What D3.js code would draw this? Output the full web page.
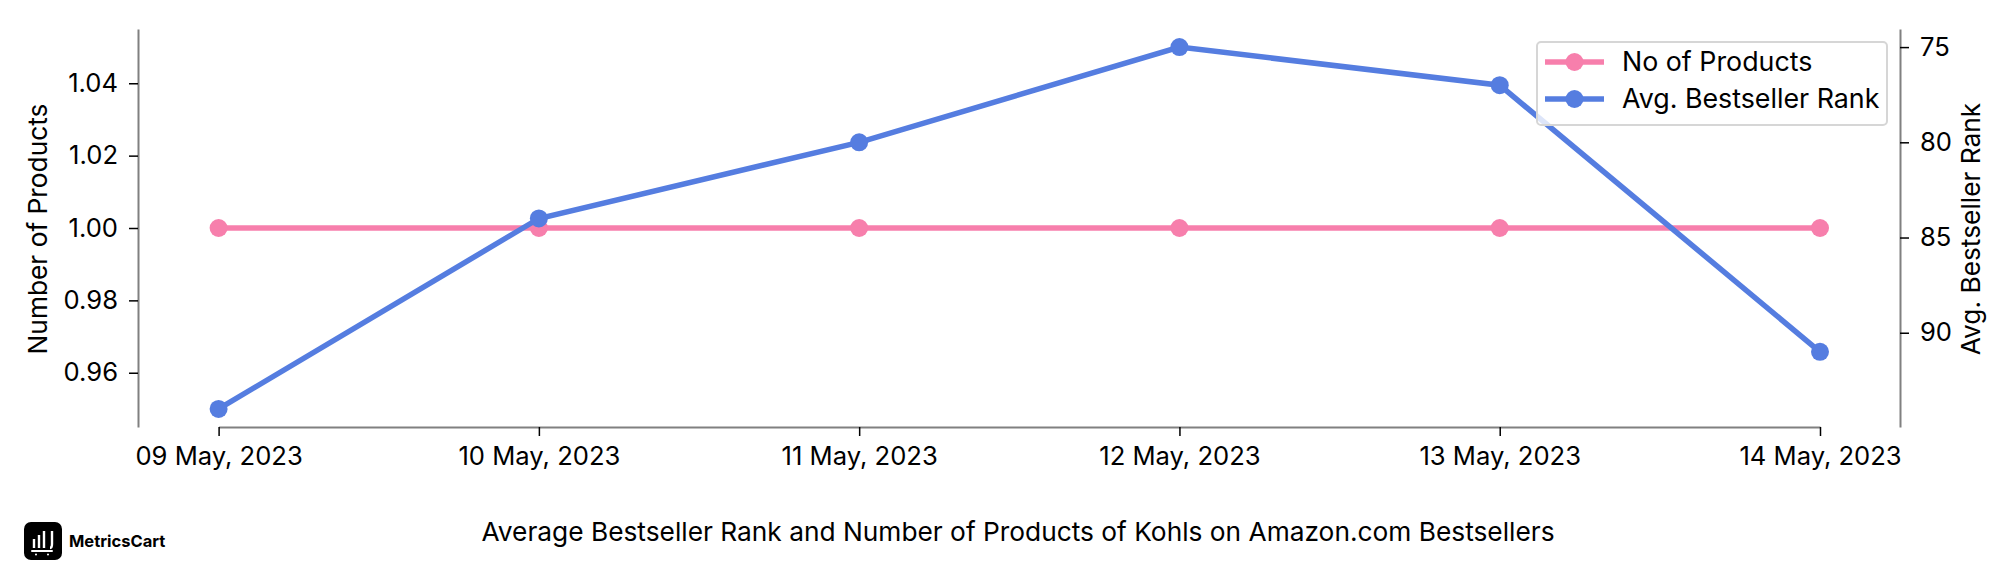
<!DOCTYPE html>
<html>
<head>
<meta charset="utf-8">
<style>
  html, body { margin: 0; padding: 0; background: #fff; }
  svg { display: block; }
  text { font-family: Inter, "Noto Sans", sans-serif; fill: #000; }
</style>
<script src="https://cdn.jsdelivr.net/npm/d3@7"></script>
</head>
<body>
<div id="chart"></div>
<script>
const dates = ['09 May, 2023', '10 May, 2023', '11 May, 2023', '12 May, 2023', '13 May, 2023', '14 May, 2023'];
const noOfProducts = [1, 1, 1, 1, 1, 1];
const avgRank = [94, 84, 80, 75, 77, 91];
const leftTicks = [0.96, 0.98, 1.00, 1.02, 1.04];
const rightTicks = [75, 80, 85, 90];

const pink = '#F77FAC';
const blue = '#557DE0';
const axisGrey = '#808080';

const width = 2016;
const height = 576;
const margin = { top: 29, right: 116, bottom: 149, left: 138 };
const innerW = width - margin.left - margin.right;
const innerH = height - margin.top - margin.bottom;

const svg = d3.select('#chart')
  .append('svg')
  .attr('width', width)
  .attr('height', height);

const g = svg.append('g')
  .attr('transform', `translate(${margin.left},${margin.top})`);

const x = d3.scalePoint()
  .domain(dates)
  .range([80.6, 1682]);

const yLeft = d3.scaleLinear()
  .domain([0.945, 1.055])
  .range([innerH, 0]);

const yRight = d3.scaleLinear()
  .domain([74.05, 94.95])
  .range([0, innerH]);

// axes
const xAxis = g.append('g')
  .attr('transform', `translate(0,${innerH})`)
  .call(d3.axisBottom(x).tickSize(9).tickSizeOuter(0).tickPadding(11));

const leftAxis = g.append('g')
  .call(d3.axisLeft(yLeft).tickValues(leftTicks).tickFormat(d3.format('.2f')).tickSize(9).tickSizeOuter(0).tickPadding(11));

const rightAxis = g.append('g')
  .attr('transform', `translate(${innerW},0)`)
  .call(d3.axisRight(yRight).tickValues(rightTicks).tickSize(9).tickSizeOuter(0).tickPadding(11));

[xAxis, leftAxis, rightAxis].forEach(a => {
  a.select('.domain').attr('stroke', axisGrey).attr('stroke-width', 2);
  a.selectAll('.tick line').attr('stroke', '#000').attr('stroke-width', 1.5);
  a.selectAll('.tick text').style('font-size', '25.6px').attr('fill', '#000');
});

// left and right axis labels
g.append('text')
  .attr('transform', `translate(-91,${innerH / 2 + 1}) rotate(-90)`)
  .attr('text-anchor', 'middle')
  .style('font-size', '26.3px')
  .text('Number of Products');

g.append('text')
  .attr('transform', `translate(${innerW + 80},${innerH / 2 + 1}) rotate(-90)`)
  .attr('text-anchor', 'middle')
  .style('font-size', '26.3px')
  .text('Avg. Bestseller Rank');

// lines
function drawSeries(values, yScale, colour) {
  const line = d3.line()
    .x((d, i) => x(dates[i]))
    .y(d => yScale(d));
  g.append('path')
    .datum(values)
    .attr('fill', 'none')
    .attr('stroke', colour)
    .attr('stroke-width', 5.5)
    .attr('d', line);
  g.selectAll(null)
    .data(values)
    .enter().append('circle')
    .attr('cx', (d, i) => x(dates[i]))
    .attr('cy', d => yScale(d))
    .attr('r', 9)
    .attr('fill', colour);
}

drawSeries(noOfProducts, yLeft, pink);
drawSeries(avgRank, yRight, blue);

// legend
const legend = svg.append('g').attr('transform', 'translate(1537,42)');
legend.append('rect')
  .attr('width', 350)
  .attr('height', 83)
  .attr('rx', 4)
  .attr('fill', '#fff')
  .attr('fill-opacity', 0.8)
  .attr('stroke', '#d6d6d6')
  .attr('stroke-width', 2);

[['No of Products', pink], ['Avg. Bestseller Rank', blue]].forEach(([label, colour], i) => {
  const row = legend.append('g').attr('transform', `translate(0,${20 + i * 37})`);
  row.append('line')
    .attr('x1', 8).attr('x2', 67)
    .attr('stroke', colour)
    .attr('stroke-width', 5.5);
  row.append('circle')
    .attr('cx', 37.5)
    .attr('r', 9)
    .attr('fill', colour);
  row.append('text')
    .attr('x', 85)
    .attr('dy', '0.35em')
    .style('font-size', '26.8px')
    .text(label);
});

// footer title
svg.append('text')
  .attr('x', 1018)
  .attr('y', 541)
  .attr('text-anchor', 'middle')
  .style('font-size', '26.3px')
  .text('Average Bestseller Rank and Number of Products of Kohls on Amazon.com Bestsellers');

// logo
const logo = svg.append('g').attr('transform', 'translate(24,522)');
logo.append('rect')
  .attr('width', 38)
  .attr('height', 38)
  .attr('rx', 7)
  .attr('fill', '#000');
logo.append('path')
  .attr('d', 'M10 17v9M15 13v13M20 9v17M26 26c2 0 2-2 2-4V9')
  .attr('fill', 'none')
  .attr('stroke', '#fff')
  .attr('stroke-width', 2.4);
logo.append('path')
  .attr('d', 'M8 29h20M12 32.5h0M24 32.5h0')
  .attr('fill', 'none')
  .attr('stroke', '#fff')
  .attr('stroke-width', 2)
  .attr('stroke-linecap', 'round');
svg.append('text')
  .attr('x', 69)
  .attr('y', 547)
  .style('font-size', '16.5px')
  .style('font-weight', 700)
  .text('MetricsCart');
</script>
</body>
</html>
